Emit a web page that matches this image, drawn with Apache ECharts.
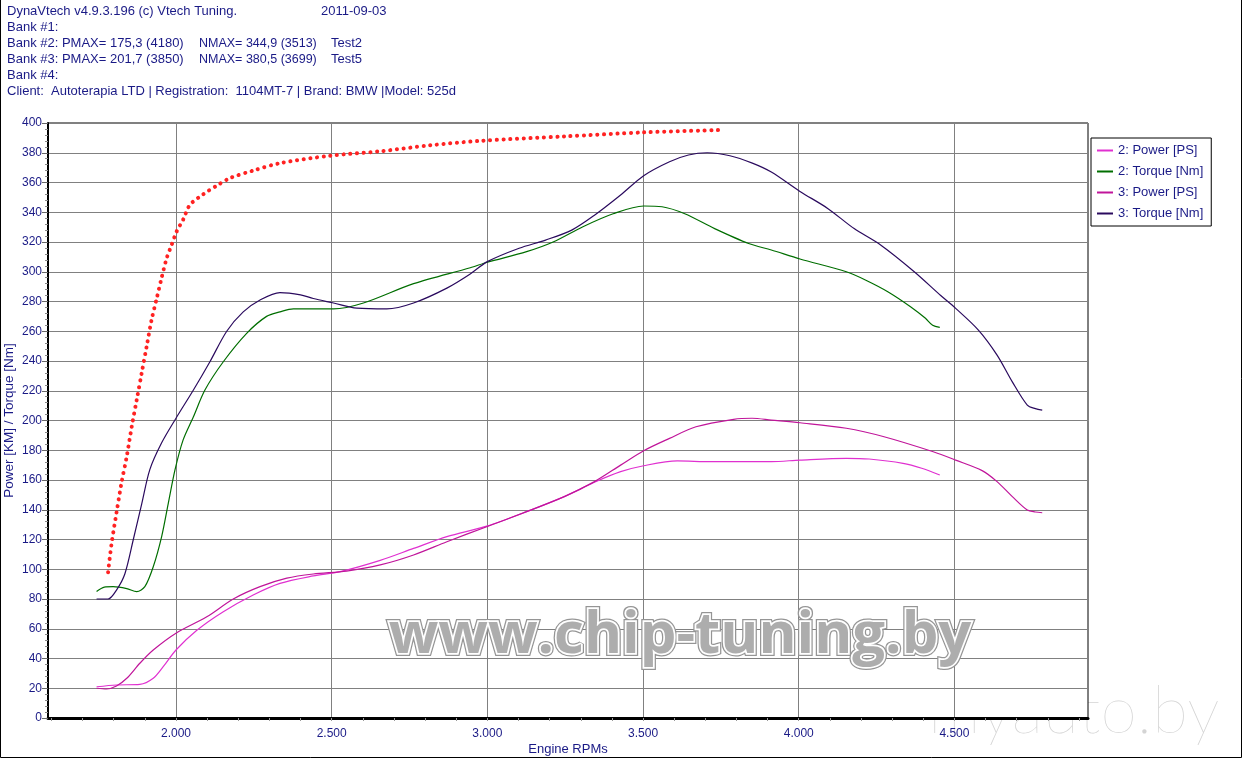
<!DOCTYPE html>
<html><head><meta charset="utf-8">
<script src="https://cdn.jsdelivr.net/npm/echarts@6/dist/echarts.min.js"></script>
<style>html,body{margin:0;padding:0;background:#fff}#c{width:1243px;height:760px}</style>
</head><body><div id="c"></div>
<script>
// ---- data ----
const refRpm = [1782,1793,1809,1825,1842,1858,1874,1890,1906,1922,1938,1954,1970,1986,2002,2023,2045,2087,2132,2174,2248,2334,2495,2656,2816,2977,3250,3502,3755];
const refVal = [98,117,138,158,176,196,214,232,250,268,282,296,309,318,327,335,345,352,358,363,368,373,378,381,385,388,391,393.7,395.3];

const t3Rpm = [1745,1782,1809,1836,1863,1890,1916,1954,2000,2056,2109,2163,2216,2270,2334,2400,2441,2506,2581,2677,2763,2870,2945,3000,3102,3187,3271,3344,3428,3502,3585,3646,3706,3779,3851,3912,4004,4093,4178,4263,4371,4456,4504,4577,4637,4686,4734,4760,4782];
const t3Val = [80,80,86,97,120,144,167,185,201.5,220.5,239.5,260,273,281,286,284.5,282,279,275.5,275,279,289,298.5,306.8,315.8,321.3,328,338,351.6,364.6,374,378.5,380,378,373,367,354,342.6,329,318,300,284,275.4,260.8,244,226,210.4,208,207];

const t2Rpm = [1745,1770,1798,1842,1874,1900,1927,1954,1975,1997,2023,2056,2093,2152,2227,2291,2334,2377,2506,2602,2763,2945,3000,3126,3211,3307,3404,3502,3561,3634,3730,3839,3912,4004,4153,4214,4286,4359,4407,4430,4453];
const t2Val = [85,88,88.3,87,85,88.3,101.7,122,144,167,187,202.5,220.5,239.5,258.6,270,273,275,275,279,292,302.7,306.4,313.5,320,330.3,339,344.2,343.7,339,329,319,314.6,308.6,300,294.5,286.6,276.5,268.7,264,262.6];

const p3Rpm = [1745,1777,1809,1842,1884,1927,2000,2099,2184,2270,2356,2441,2548,2656,2763,2870,2998,3126,3247,3344,3428,3502,3585,3670,3791,3850,3912,4004,4153,4274,4432,4504,4589,4637,4686,4734,4760,4782];
const p3Val = [20,19.5,21.5,26.7,36.8,45.7,57,68,80,88.3,94,96.8,98.8,102.9,109.6,118.5,128.6,138.7,148.8,158.9,170,179.7,188,195.8,200.8,201.5,200.3,198.5,194.8,189.1,179,173.4,166.3,158.9,148.8,139.8,138.5,138];

const p2Rpm = [1745,1809,1884,1927,1959,2000,2067,2152,2248,2334,2441,2527,2656,2763,2870,2998,3126,3247,3344,3428,3502,3610,3718,3912,4004,4153,4226,4335,4395,4453];
const p2Val = [21,22.2,22.6,26.7,34.5,45.7,59,71.5,82.7,90.5,95.5,98.4,106,114,121.9,129,138.7,148.8,158.5,165.6,169.6,172.8,172.3,172.3,173.4,174.6,174.1,171.2,167.9,163.4];

const xLabelValues = [2000,2500,3000,3500,4000,4500];
const xMinorValues = [];
for (let v = 1600; v <= 4900; v += 100) xMinorValues.push(v);

const seriesNames = ['2: Power [PS]','2: Torque [Nm]','3: Power [PS]','3: Torque [Nm]'];
const headerLines = [
  ['DynaVtech v4.9.3.196 (c) Vtech Tuning.', '2011-09-03', ''],
  ['Bank #1:', '', ''],
  ['Bank #2: PMAX= 175,3 (4180)', 'NMAX= 344,9 (3513)', 'Test2'],
  ['Bank #3: PMAX= 201,7 (3850)', 'NMAX= 380,5 (3699)', 'Test5'],
  ['Bank #4:', '', ''],
  ['Client:  Autoterapia LTD | Registration:  1104MT-7 | Brand: BMW |Model: 525d', '', '']
];

const zip = (a, b) => a.map((x, i) => [x, b[i]]);
const NAVY = '#1a1a86';
const FONT = '"Liberation Sans", Arial, sans-serif';

const graphics = [];
headerLines.forEach((ln, i) => {
  const y = 5 + i * 15.9;
  graphics.push({type:'text', left:7, top:y, style:{text:ln[0], fill:NAVY, font:'13px '+FONT}});
  if (ln[1]) graphics.push({type:'text', left: i===0 ? 321 : 199, top:y, style:{text:ln[1], fill:NAVY, font:(i===0?'13px ':'12.5px ')+FONT}});
  if (ln[2]) graphics.push({type:'text', left:331, top:y, style:{text:ln[2], fill:NAVY, font:'13px '+FONT}});
});
// outer frame
graphics.push({type:'polyline', silent:true, shape:{points:[[0.5,0],[0.5,757.5],[1241.5,757.5],[1241.5,0]]}, style:{stroke:'#000', lineWidth:1, fill:null}});
// watermarks
const wmFont = 'bold 58px "Open Sans", "DejaVu Sans", sans-serif';
graphics.push({type:'text', x:680, y:636, z:49, silent:true, style:{text:'www.chip-tuning.by', font:wmFont, fill:'#959595', stroke:'#959595', lineWidth:6, align:'center', verticalAlign:'middle', shadowColor:'rgba(0,0,0,0.3)', shadowBlur:5, shadowOffsetX:1, shadowOffsetY:2}});
graphics.push({type:'text', x:680, y:636, z:50, silent:true, style:{text:'www.chip-tuning.by', font:wmFont,
  fill:'#adadad', stroke:'#ffffff', lineWidth:3.5, align:'center', verticalAlign:'middle'}});
graphics.push({type:'text', x:1074, y:712, z:-1, silent:true, style:{text:'myauto.by', font:'100 66px Lato, "DejaVu Sans", sans-serif', fill:'#d4d4d4', align:'center', verticalAlign:'middle'}});

const chart = echarts.init(document.getElementById('c'), null, {renderer:'canvas'});
chart.setOption({
  animation:false,
  backgroundColor:'#fff',
  grid:{left:48, right:155, top:123, bottom:42, show:true, borderColor:'#000', borderWidth:1, backgroundColor:'#fff', outerBoundsMode:'none', containLabel:false},
  legend:{
    orient:'vertical', left:1091, top:138, padding:[6,8,6,6], itemGap:8,
    borderColor:'#000', borderWidth:1, backgroundColor:'#fff', borderRadius:0,
    itemWidth:16, itemHeight:2, icon:'rect',
    textStyle:{color:NAVY, fontSize:13, fontFamily:FONT},
    data:seriesNames
  },
  xAxis:[{
    type:'value', min:1589, max:4929,
    name:'Engine RPMs', nameLocation:'middle', nameGap:25, nameMoveOverlap:false,
    nameTextStyle:{color:NAVY, fontSize:13, fontFamily:FONT},
    axisLine:{show:true, onZero:false, lineStyle:{color:'#000', width:3}},
    axisTick:{show:true, length:3, customValues:xLabelValues, lineStyle:{color:'#888'}},
    axisLabel:{customValues:xLabelValues, color:NAVY, fontSize:12, fontFamily:FONT, margin:10,
      formatter:v => (v/1000).toFixed(3)},
    splitLine:{show:true, lineStyle:{color:'#808080', width:1}}
  },{
    type:'value', min:1589, max:4929, position:'bottom', gridIndex:0,
    axisLine:{show:false}, axisLabel:{show:false}, splitLine:{show:false},
    axisTick:{show:true, length:3, customValues:xMinorValues, lineStyle:{color:'#999'}}
  }],
  yAxis:{
    type:'value', min:0, max:400, interval:20,
    name:'Power [KM] / Torque [Nm]', nameLocation:'middle', nameRotate:90, nameGap:32, nameMoveOverlap:false,
    nameTextStyle:{color:NAVY, fontSize:13.5, fontFamily:FONT},
    axisLine:{show:true, lineStyle:{color:'#000', width:2}},
    axisTick:{show:true, length:6, lineStyle:{color:'#666'}},
    minorTick:{show:true, splitNumber:5, length:3, lineStyle:{color:'#888'}},
    axisLabel:{color:NAVY, fontSize:12, fontFamily:FONT, margin:6},
    splitLine:{show:true, lineStyle:{color:'#808080', width:1}}
  },
  graphic:graphics,
  series:[
    {name:'ref', type:'line', data:zip(refRpm, refVal), showSymbol:false, smooth:0.3, z:3,
      lineStyle:{color:'#ff2222', width:4, type:[0.1,6.6], cap:'round'}, silent:true},
    {name:seriesNames[0], type:'line', data:zip(p2Rpm, p2Val), showSymbol:false, smooth:0.3,
      color:'#e030d0', lineStyle:{color:'#e030d0', width:1.2}},
    {name:seriesNames[1], type:'line', data:zip(t2Rpm, t2Val), showSymbol:false, smooth:0.3,
      color:'#006e00', lineStyle:{color:'#006e00', width:1.2}},
    {name:seriesNames[2], type:'line', data:zip(p3Rpm, p3Val), showSymbol:false, smooth:0.3,
      color:'#c0159a', lineStyle:{color:'#c0159a', width:1.2}},
    {name:seriesNames[3], type:'line', data:zip(t3Rpm, t3Val), showSymbol:false, smooth:0.3,
      color:'#2a0a5e', lineStyle:{color:'#2a0a5e', width:1.2}}
  ]
});
</script>
</body></html>
